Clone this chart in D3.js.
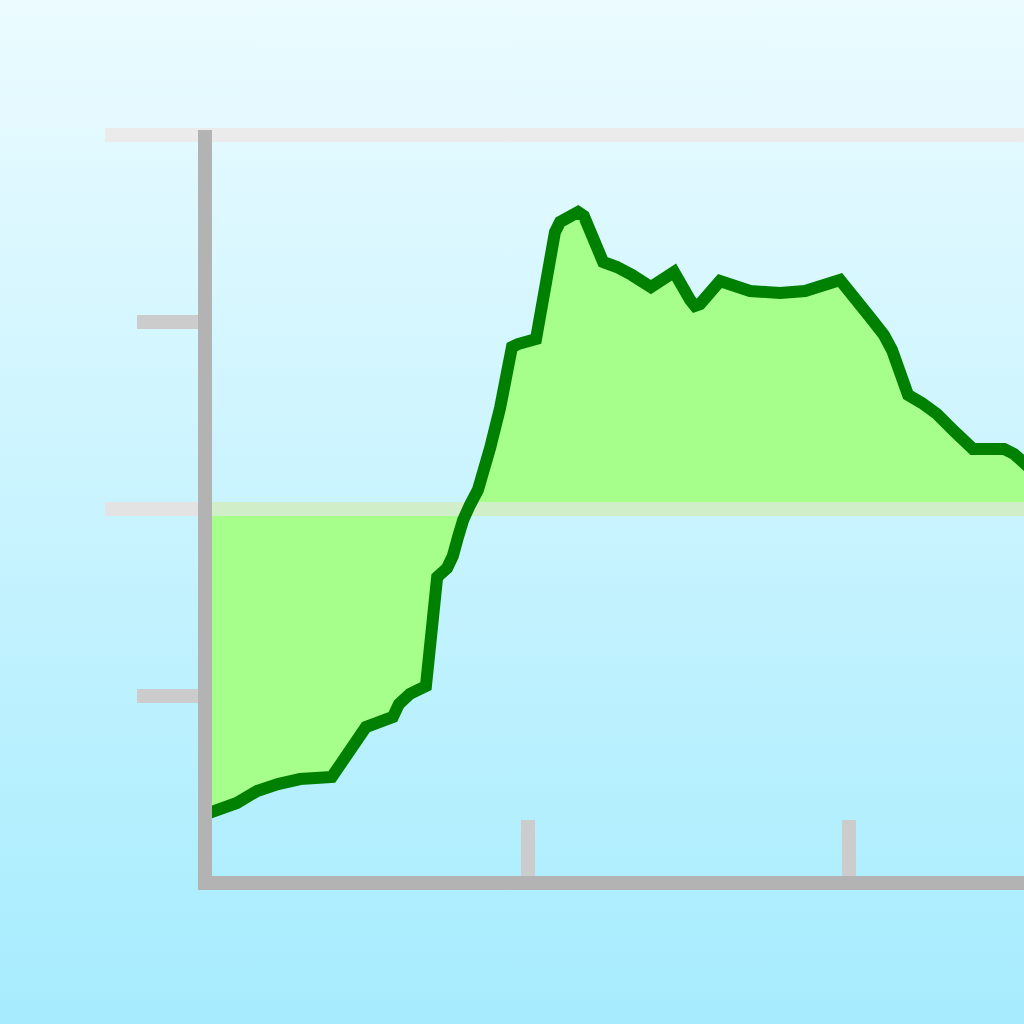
<!DOCTYPE html>
<html><head><meta charset="utf-8">
<script src="https://cdn.jsdelivr.net/npm/d3@7"></script>
<style>html,body{margin:0;padding:0;overflow:hidden;}svg{display:block;}</style>
</head><body>
<script>
const xs = [-0.01,0.093,0.156,0.221,0.290,0.389,0.495,0.579,0.598,0.632,0.682,0.717,0.748,0.766,0.782,0.798,0.819,0.844,0.882,0.913,0.950,0.969,1.025,1.084,1.100,1.156,1.174,1.234,1.277,1.324,1.383,1.455,1.505,1.520,1.536,1.598,1.692,1.785,1.863,1.972,2.065,2.109,2.134,2.184,2.227,2.274,2.330,2.386,2.483,2.514,2.570];
const ys = [-1.636,-1.572,-1.508,-1.471,-1.444,-1.433,-1.166,-1.112,-1.043,-0.989,-0.947,-0.364,-0.316,-0.251,-0.150,-0.059,0.021,0.102,0.326,0.540,0.866,0.882,0.909,1.481,1.535,1.588,1.567,1.321,1.294,1.251,1.187,1.267,1.118,1.086,1.096,1.219,1.166,1.155,1.166,1.225,1.027,0.930,0.850,0.610,0.567,0.508,0.412,0.321,0.321,0.294,0.209];
const xTicks = [1, 2];
const yTicks = [-1, 1];
const yGrid = [0, 2];

const W = 1024, H = 1024;
const svg = d3.select("body").append("svg").attr("width", W).attr("height", H);
const defs = svg.append("defs");
const grad = defs.append("linearGradient").attr("id","bg").attr("x1",0).attr("y1",0).attr("x2",0).attr("y2",1);
grad.append("stop").attr("offset","0%").attr("stop-color","#ebfbff");
grad.append("stop").attr("offset","100%").attr("stop-color","#a6ecfe");
svg.append("rect").attr("width",W).attr("height",H).attr("fill","url(#bg)");

const x = d3.scaleLinear().domain([0,1]).range([207,528]);
const y = d3.scaleLinear().domain([0,1]).range([509,322]);
const data = xs.map((v,i)=>({x:v,y:ys[i]}));

// top gridline
svg.append("line").attr("x1",105).attr("x2",W).attr("y1",y(yGrid[1])).attr("y2",y(yGrid[1]))
  .attr("stroke","#ebebeb").attr("stroke-width",14);

// area
svg.append("path").datum(data)
  .attr("d", d3.area().x(d=>x(d.x)).y0(y(0)).y1(d=>y(d.y)))
  .attr("fill","#a6ff8a");

// mid gridline
svg.append("line").attr("x1",105).attr("x2",205).attr("y1",y(yGrid[0])).attr("y2",y(yGrid[0]))
  .attr("stroke","#e3e3e3").attr("stroke-width",14);
svg.append("line").attr("x1",205).attr("x2",W).attr("y1",y(yGrid[0])).attr("y2",y(yGrid[0]))
  .attr("stroke","#d0eec8").attr("stroke-width",14);

// line
svg.append("path").datum(data)
  .attr("d", d3.line().x(d=>x(d.x)).y(d=>y(d.y)))
  .attr("fill","none").attr("stroke","#008000").attr("stroke-width",12)
  .attr("stroke-linejoin","miter").attr("stroke-miterlimit",4);

// y ticks
svg.selectAll(".yt").data(yTicks).enter().append("line")
  .attr("x1",137).attr("x2",199).attr("y1",d=>y(d)).attr("y2",d=>y(d))
  .attr("stroke","#cccccc").attr("stroke-width",14);
// x ticks
svg.selectAll(".xt").data(xTicks).enter().append("line")
  .attr("x1",d=>x(d)).attr("x2",d=>x(d)).attr("y1",820).attr("y2",877)
  .attr("stroke","#cccccc").attr("stroke-width",14);

// axes
svg.append("line").attr("x1",x(0)-2).attr("x2",x(0)-2).attr("y1",130).attr("y2",890)
  .attr("stroke","#b3b3b3").attr("stroke-width",14);
svg.append("line").attr("x1",198).attr("x2",W).attr("y1",y(-2)).attr("y2",y(-2))
  .attr("stroke","#b3b3b3").attr("stroke-width",14);
</script>
</body></html>
